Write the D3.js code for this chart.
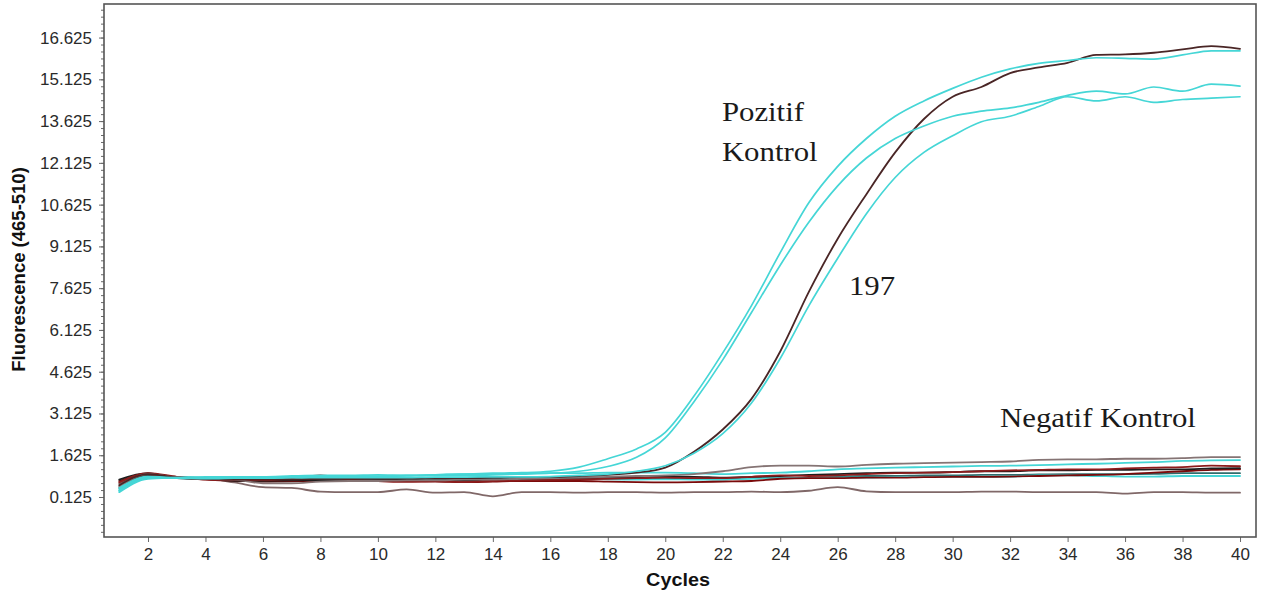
<!DOCTYPE html>
<html>
<head>
<meta charset="utf-8">
<script src="https://cdn.jsdelivr.net/npm/d3@7"></script>
<style>
	body { margin: 0; background: #fff; }
	svg { display: block; }
	.axis text { font-family: "Liberation Sans", Arial, sans-serif; font-size: 17px; fill: #2a2a2a; }
	.axis path { display: none; }
	.axis line { stroke: #6a6a6a; stroke-width: 1; }
	.curve { fill: none; stroke-linejoin: round; stroke-linecap: round; }
	.note { font-family: "Liberation Serif", "Times New Roman", serif; font-size: 28px; fill: #1a1a1a; }
	.title { font-family: "Liberation Sans", Arial, sans-serif; font-weight: bold; fill: #111; }
</style>
</head>
<body>
<svg class="pcr" width="1267" height="595"></svg>
<script>
var cycles = [1, 2, 3, 4, 5, 6, 7, 8, 9, 10, 11, 12, 13, 14, 15, 16, 17, 18, 19, 20,
	21, 22, 23, 24, 25, 26, 27, 28, 29, 30, 31, 32, 33, 34, 35, 36, 37, 38, 39, 40];
var xTickValues = [2, 4, 6, 8, 10, 12, 14, 16, 18, 20, 22, 24, 26, 28, 30, 32, 34, 36, 38, 40];
var yTickValues = [0.125, 1.625, 3.125, 4.625, 6.125, 7.625, 9.125, 10.625, 12.125, 13.625, 15.125, 16.625];

// negative controls / flat samples
var negGrey = [0.5, 0.95, 0.82, 0.78, 0.75, 0.62, 0.62, 0.68, 0.7, 0.7, 0.72, 0.72, 0.75, 0.75, 0.78, 0.8, 0.82, 0.85, 0.88, 0.9,
	0.95, 1.05, 1.2, 1.25, 1.25, 1.22, 1.28, 1.32, 1.34, 1.36, 1.38, 1.4, 1.46, 1.48, 1.48, 1.5, 1.5, 1.52, 1.56, 1.56];
var negCyan1 = [0.3, 0.78, 0.82, 0.85, 0.85, 0.85, 0.88, 0.9, 0.9, 0.92, 0.9, 0.92, 0.95, 0.95, 0.98, 0.98, 0.98, 1.0, 1.0, 1.0,
	0.98, 0.95, 0.98, 1.0, 1.05, 1.12, 1.15, 1.18, 1.2, 1.22, 1.24, 1.25, 1.27, 1.3, 1.32, 1.35, 1.38, 1.42, 1.44, 1.45];
var negMaroon1 = [0.65, 0.98, 0.85, 0.75, 0.72, 0.72, 0.8, 0.9, 0.75, 0.7, 0.68, 0.7, 0.66, 0.7, 0.72, 0.74, 0.76, 0.78, 0.8, 0.82,
	0.8, 0.8, 0.85, 0.9, 0.88, 0.9, 0.95, 0.98, 1.0, 1.02, 1.05, 1.08, 1.1, 1.12, 1.12, 1.15, 1.18, 1.2, 1.25, 1.23];
var negBlack = [0.75, 0.98, 0.8, 0.78, 0.7, 0.7, 0.72, 0.72, 0.7, 0.72, 0.75, 0.72, 0.72, 0.75, 0.75, 0.78, 0.8, 0.8, 0.82, 0.85,
	0.85, 0.82, 0.85, 0.88, 0.92, 0.95, 0.98, 1.0, 1.0, 1.02, 1.05, 1.05, 1.08, 1.08, 1.1, 1.1, 1.12, 1.12, 1.15, 1.16];
var negTeal = [0.45, 0.9, 0.8, 0.78, 0.76, 0.7, 0.72, 0.75, 0.76, 0.75, 0.78, 0.78, 0.78, 0.8, 0.8, 0.8, 0.82, 0.8, 0.82, 0.8,
	0.78, 0.75, 0.8, 0.8, 0.82, 0.85, 0.88, 0.88, 0.9, 0.9, 0.92, 0.92, 0.94, 0.95, 0.95, 0.95, 0.96, 0.98, 0.98, 0.98];
var negCyan2 = [0.35, 0.85, 0.85, 0.82, 0.8, 0.78, 0.8, 0.8, 0.8, 0.8, 0.8, 0.82, 0.82, 0.82, 0.82, 0.8, 0.78, 0.76, 0.75, 0.76,
	0.75, 0.76, 0.78, 0.8, 0.8, 0.82, 0.82, 0.84, 0.84, 0.85, 0.85, 0.86, 0.9, 0.9, 0.88, 0.86, 0.86, 0.88, 0.88, 0.88];
var negMaroon2 = [0.7, 0.95, 0.82, 0.76, 0.72, 0.68, 0.7, 0.7, 0.72, 0.7, 0.68, 0.68, 0.66, 0.68, 0.7, 0.7, 0.7, 0.68, 0.66, 0.65,
	0.66, 0.68, 0.7, 0.78, 0.8, 0.8, 0.82, 0.82, 0.84, 0.85, 0.85, 0.86, 0.88, 0.9, 0.92, 0.95, 1.0, 1.05, 1.1, 1.12];
var negLow = [0.6, 0.95, 0.85, 0.8, 0.65, 0.48, 0.45, 0.32, 0.3, 0.3, 0.4, 0.28, 0.3, 0.15, 0.3, 0.3, 0.28, 0.3, 0.3, 0.28,
	0.3, 0.3, 0.32, 0.3, 0.35, 0.48, 0.33, 0.3, 0.3, 0.3, 0.32, 0.32, 0.3, 0.3, 0.3, 0.25, 0.3, 0.3, 0.28, 0.28];

// amplified curves
var posA = [0.45, 0.85, 0.82, 0.8, 0.82, 0.85, 0.85, 0.85, 0.88, 0.88, 0.9, 0.92, 0.95, 0.98, 1.0, 1.05, 1.2, 1.5, 1.85, 2.45,
	3.75, 5.3, 7.0, 8.9, 10.7, 12.0, 13.0, 13.8, 14.35, 14.8, 15.2, 15.5, 15.7, 15.8, 15.9, 15.88, 15.85, 16.0, 16.15, 16.15];
var posB = [0.35, 0.8, 0.8, 0.78, 0.8, 0.82, 0.83, 0.85, 0.85, 0.86, 0.88, 0.9, 0.9, 0.92, 0.95, 0.98, 1.05, 1.22, 1.55, 2.25,
	3.55, 5.05, 6.75, 8.45, 10.0, 11.3, 12.3, 13.0, 13.45, 13.8, 13.98, 14.1, 14.3, 14.55, 14.7, 14.6, 14.85, 14.7, 14.95, 14.88];
var posC = [0.4, 0.85, 0.8, 0.8, 0.8, 0.8, 0.82, 0.82, 0.82, 0.82, 0.82, 0.84, 0.84, 0.85, 0.85, 0.86, 0.9, 0.95, 1.05, 1.25,
	1.7, 2.4, 3.5, 5.1, 7.0, 8.7, 10.3, 11.6, 12.5, 13.1, 13.6, 13.8, 14.15, 14.5, 14.35, 14.5, 14.3, 14.4, 14.45, 14.5];
var sample197 = [0.55, 0.95, 0.82, 0.78, 0.75, 0.75, 0.75, 0.78, 0.78, 0.78, 0.8, 0.8, 0.8, 0.82, 0.85, 0.85, 0.88, 0.92, 1.0, 1.18,
	1.75, 2.55, 3.65, 5.35, 7.5, 9.4, 11.0, 12.5, 13.7, 14.5, 14.85, 15.35, 15.55, 15.72, 16.0, 16.02, 16.08, 16.2, 16.32, 16.22];

var seriesList = [
	{ name: 'negLow', values: negLow, color: '#806868' },
	{ name: 'negTeal', values: negTeal, color: '#2f6d6d' },
	{ name: 'negCyan2', values: negCyan2, color: '#45d6d6' },
	{ name: 'negMaroon2', values: negMaroon2, color: '#7a0a0a' },
	{ name: 'negBlack', values: negBlack, color: '#1e1e1e' },
	{ name: 'negMaroon1', values: negMaroon1, color: '#8c1c1c' },
	{ name: 'negCyan1', values: negCyan1, color: '#45d6d6' },
	{ name: 'negGrey', values: negGrey, color: '#857474' },
	{ name: 'sample197', values: sample197, color: '#4a2626' },
	{ name: 'posC', values: posC, color: '#45d6d6' },
	{ name: 'posB', values: posB, color: '#45d6d6' },
	{ name: 'posA', values: posA, color: '#45d6d6' }
];

var notes = [
	{ text: 'Pozitif', cycle: 21.97, value: 13.63 },
	{ text: 'Kontrol', cycle: 21.97, value: 12.19 },
	{ text: '197', cycle: 26.39, value: 7.38 },
	{ text: 'Negatif Kontrol', cycle: 31.65, value: 2.64 }
];

var pcrChart = {
	initialize: function(){
		var self = this;
		self._build_scales();
		self._render_axes();
		self._render_curves();
		self._render_labels();
		return self;
	},
	_build_scales: function(){
		var self = this;
		self.margin = { top: 4, right: 11, bottom: 58, left: 104 };
		self.width = 1267 - self.margin.left - self.margin.right;
		self.height = 595 - self.margin.top - self.margin.bottom;
		self.x = d3.scaleLinear().domain([0.469, 40.556]).range([0, self.width]);
		self.y = d3.scaleLinear().domain([-1.311, 17.83]).range([self.height, 0]);
		self.svg = d3.select('svg.pcr')
			.append('g')
			.attr('transform', 'translate(' + self.margin.left + ',' + self.margin.top + ')');
	},
	_render_axes: function(){
		var self = this;
		// minor ticks on the y axis every 0.25
		self.svg.append('g')
			.attr('class', 'axis')
			.call(d3.axisLeft(self.y).tickValues(d3.range(-1.125, 17.7, 0.25)).tickSize(3).tickFormat(''));
		self.svg.append('g')
			.attr('class', 'axis')
			.call(d3.axisLeft(self.y).tickValues(yTickValues).tickSize(5).tickPadding(7)
				.tickFormat(function(d){ return d3.format('.3f')(d); }));
		self.svg.append('g')
			.attr('class', 'axis')
			.attr('transform', 'translate(0,' + self.height + ')')
			.call(d3.axisBottom(self.x).tickValues(xTickValues).tickSize(5).tickPadding(6));

		self.svg.append('rect')
			.attr('x', 0)
			.attr('y', 0)
			.attr('width', self.width)
			.attr('height', self.height)
			.attr('fill', 'none')
			.attr('stroke', '#555')
			.attr('stroke-width', 1.6);
	},
	_render_curves: function(){
		var self = this;
		var line = d3.line()
			.x(function(d, i){ return self.x(cycles[i]); })
			.y(function(d){ return self.y(d); })
			.curve(d3.curveMonotoneX);

		self.svg.append('g')
			.selectAll('.curve')
			.data(seriesList)
			.enter()
			.append('path')
			.attr('class', 'curve')
			.attr('stroke', function(d){ return d.color; })
			.attr('stroke-width', function(d){ return d.name.indexOf('pos') == 0 ? 1.7 : 1.8; })
			.attr('d', function(d){ return line(d.values); });
	},
	_render_labels: function(){
		var self = this;
		self.svg.append('g')
			.selectAll('.note')
			.data(notes)
			.enter()
			.append('text')
			.attr('class', 'note')
			.attr('transform', function(d){
				return 'translate(' + self.x(d.cycle) + ',' + self.y(d.value) + ') scale(1.1,1)';
			})
			.text(function(d){ return d.text; });

		self.svg.append('text')
			.attr('class', 'title')
			.attr('font-size', 18)
			.attr('text-anchor', 'middle')
			.attr('transform', 'translate(' + (self.width / 2 - 2) + ',' + (self.height + 49) + ') scale(1.1,1)')
			.text('Cycles');

		self.svg.append('text')
			.attr('class', 'title')
			.attr('font-size', 18.5)
			.attr('text-anchor', 'middle')
			.attr('transform', 'translate(' + (-79) + ',' + (self.height / 2 - 1) + ') rotate(-90)')
			.text('Fluorescence (465-510)');
	}
};

pcrChart.initialize();
</script>
</body>
</html>
